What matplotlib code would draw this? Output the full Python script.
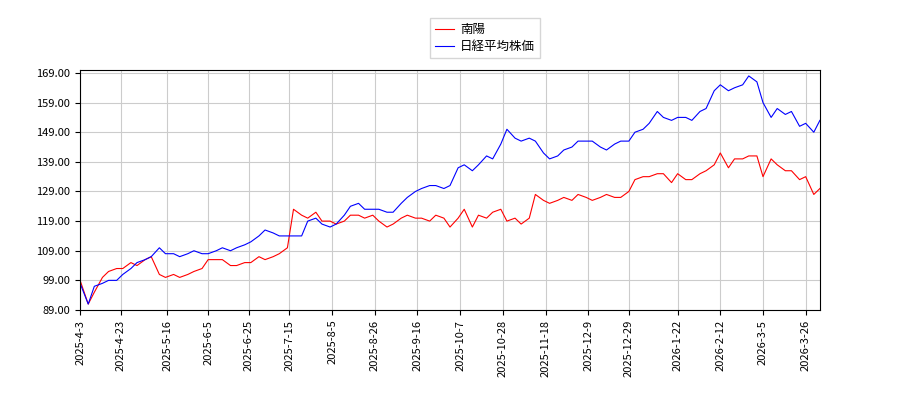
import pandas as pd
import matplotlib
matplotlib.use('Agg')
import matplotlib.pyplot as plt

plt.rcParams['font.family'] = ['Noto Sans CJK JP', 'DejaVu Sans']

# Mon/Thu sampling dates
dates = pd.date_range('2025-04-03', '2026-04-02', freq='W-THU').union(
    pd.date_range('2025-04-03', '2026-04-02', freq='W-MON'))

nanyo = [99, 91, 95, 100, 102, 103, 103, 105, 104, 106,
         107, 101, 100, 101, 100, 101, 102, 103, 106, 106,
         106, 104, 104, 105, 105, 107, 106, 107, 108, 110,
         123, 121, 120, 122, 119, 119, 118, 119, 121, 121,
         120, 121, 119, 117, 118, 120, 121, 120, 120, 119,
         121, 120, 117, 120, 123, 117, 121, 120, 122, 123,
         119, 120, 118, 120, 128, 126, 125, 126, 127, 126,
         128, 127, 126, 127, 128, 127, 127, 129, 133, 134,
         134, 135, 135, 132, 135, 133, 133, 135, 136, 138,
         142, 137, 140, 140, 141, 141, 134, 140, 138, 136,
         136, 133, 134, 128, 130]
nikkei = [98, 91, 97, 98, 99, 99, 101, 103, 105, 106,
          107, 110, 108, 108, 107, 108, 109, 108, 108, 109,
          110, 109, 110, 111, 112, 114, 116, 115, 114, 114,
          114, 114, 119, 120, 118, 117, 118, 121, 124, 125,
          123, 123, 123, 122, 122, 125, 127, 129, 130, 131,
          131, 130, 131, 137, 138, 136, 138, 141, 140, 145,
          150, 147, 146, 147, 146, 142, 140, 141, 143, 144,
          146, 146, 146, 144, 143, 145, 146, 146, 149, 150,
          152, 156, 154, 153, 154, 154, 153, 156, 157, 163,
          165, 163, 164, 165, 168, 166, 159, 154, 157, 155,
          156, 151, 152, 149, 153]

tick_dates = ['2025-4-3', '2025-4-23', '2025-5-16', '2025-6-5', '2025-6-25', '2025-7-15',
              '2025-8-5', '2025-8-26', '2025-9-16', '2025-10-7', '2025-10-28', '2025-11-18',
              '2025-12-9', '2025-12-29', '2026-1-22', '2026-2-12', '2026-3-5', '2026-3-26']

fig = plt.figure(figsize=(9, 4), dpi=100)
ax = fig.add_axes([0.089, 0.225, 0.822, 0.6])
ax.plot(dates, nanyo, color='red', linewidth=0.8, label='南陽')
ax.plot(dates, nikkei, color='blue', linewidth=0.8, label='日経平均株価')
ax.set_ylim(89, 170)
ax.set_yticks(range(89, 170, 10))
ax.set_yticklabels([f'{v:.2f}' for v in range(89, 170, 10)], fontsize=8)
ax.set_xlim(pd.Timestamp('2025-04-03'), pd.Timestamp('2026-04-02'))
ax.set_xticks([pd.Timestamp(d) for d in tick_dates])
ax.set_xticklabels(tick_dates, rotation=90, fontsize=8)
ax.grid(True, color='#cccccc', linewidth=0.8)
fig.legend(loc='upper center', bbox_to_anchor=(0.539, 0.97), fontsize=9, fancybox=False,
           handlelength=1.5, handletextpad=0.5, borderpad=0.4, labelspacing=0.3)
fig.savefig('out.png', dpi=100)
